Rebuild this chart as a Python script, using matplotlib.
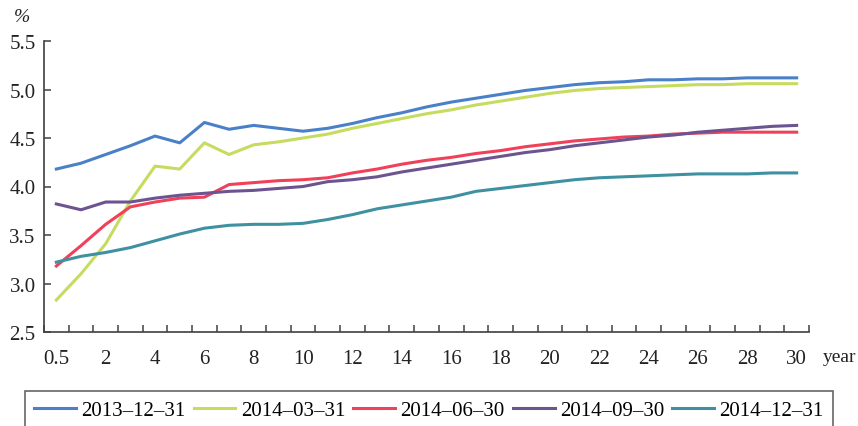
import matplotlib.pyplot as plt
import numpy as np

plt.rcParams['font.family'] = ['Liberation Serif', 'DejaVu Serif']

# maturities (years) and yield curves (%) at each date
maturities = [0.5, 1, 2, 3, 4, 5, 6, 7, 8, 9, 10, 11, 12, 13, 14, 15, 16, 17, 18, 19, 20,
              21, 22, 23, 24, 25, 26, 27, 28, 29, 30]
dates = ['2013–12–31', '2014–03–31', '2014–06–30', '2014–09–30', '2014–12–31']

y_20131231 = [4.18, 4.24, 4.33, 4.42, 4.52, 4.45, 4.66, 4.59, 4.63, 4.60, 4.57,
              4.60, 4.65, 4.71, 4.76, 4.82, 4.87, 4.91, 4.95, 4.99, 5.02,
              5.05, 5.07, 5.08, 5.10, 5.10, 5.11, 5.11, 5.12, 5.12, 5.12]
y_20140331 = [2.83, 3.10, 3.41, 3.85, 4.21, 4.18, 4.45, 4.33, 4.43, 4.46, 4.50,
              4.54, 4.60, 4.65, 4.70, 4.75, 4.79, 4.84, 4.88, 4.92, 4.96,
              4.99, 5.01, 5.02, 5.03, 5.04, 5.05, 5.05, 5.06, 5.06, 5.06]
y_20140630 = [3.18, 3.39, 3.61, 3.79, 3.84, 3.88, 3.89, 4.02, 4.04, 4.06, 4.07,
              4.09, 4.14, 4.18, 4.23, 4.27, 4.30, 4.34, 4.37, 4.41, 4.44,
              4.47, 4.49, 4.51, 4.52, 4.54, 4.55, 4.56, 4.56, 4.56, 4.56]
y_20140930 = [3.82, 3.76, 3.84, 3.84, 3.88, 3.91, 3.93, 3.95, 3.96, 3.98, 4.00,
              4.05, 4.07, 4.10, 4.15, 4.19, 4.23, 4.27, 4.31, 4.35, 4.38,
              4.42, 4.45, 4.48, 4.51, 4.53, 4.56, 4.58, 4.60, 4.62, 4.63]
y_20141231 = [3.22, 3.28, 3.32, 3.37, 3.44, 3.51, 3.57, 3.60, 3.61, 3.61, 3.62,
              3.66, 3.71, 3.77, 3.81, 3.85, 3.89, 3.95, 3.98, 4.01, 4.04,
              4.07, 4.09, 4.10, 4.11, 4.12, 4.13, 4.13, 4.13, 4.14, 4.14]

series = [y_20131231, y_20140331, y_20140630, y_20140930, y_20141231]
colors = ['#4a80c8', '#c6dc5e', '#f0405a', '#6c5490', '#3f91a2']

fig = plt.figure(figsize=(8.58, 4.27), dpi=100)
ax = fig.add_axes([44/858, 94/427, 765/858, 291/427])

pos = np.arange(len(maturities))
for vals, c, lab in zip(series, colors, dates):
    ax.plot(pos, vals, color=c, lw=2.2, label=lab)

ax.set_xlim(-0.5, len(maturities) - 0.5)
ax.set_ylim(2.5, 5.5)
yt = np.arange(2.5, 5.51, 0.5)
ax.set_yticks(yt)
ax.set_yticklabels([f'{v:.1f}' for v in yt], fontsize=15)

# labels every other category, tick marks between categories
lab_idx = pos[::2]
ax.set_xticks(lab_idx)
ax.set_xticklabels([f'{maturities[i]:g}' for i in lab_idx], fontsize=15)
ax.tick_params(axis='x', which='major', length=0, pad=12)
ax.set_xticks(np.arange(-0.5, len(maturities), 1.0), minor=True)
ax.tick_params(axis='x', which='minor', direction='in', length=5, width=1.1, color='#404040')
ax.tick_params(axis='y', direction='in', length=5, width=1.1, color='#404040', pad=6)
ax.tick_params(labelcolor='#222222')

for s in ['top', 'right']:
    ax.spines[s].set_visible(False)
for s in ['left', 'bottom']:
    ax.spines[s].set_color('#404040')
    ax.spines[s].set_linewidth(1.2)

fig.text(22/858, 1 - 18/427, '%', fontsize=14, style='italic', ha='center', va='center',
         color='#222222')
fig.text(840/858, 1 - 358/427, 'year', fontsize=14, ha='center', va='center', color='#222222')

leg = fig.legend(loc='upper left', bbox_to_anchor=(25/858, 1 - 392/427), ncol=5,
                 fontsize=15, frameon=True, fancybox=False, handlelength=2.0,
                 handletextpad=0.25, columnspacing=0.4, borderpad=0.45, borderaxespad=0)
leg.get_frame().set_edgecolor('#404040')
leg.get_frame().set_linewidth(1.2)

fig.savefig('out.png', dpi=100)
